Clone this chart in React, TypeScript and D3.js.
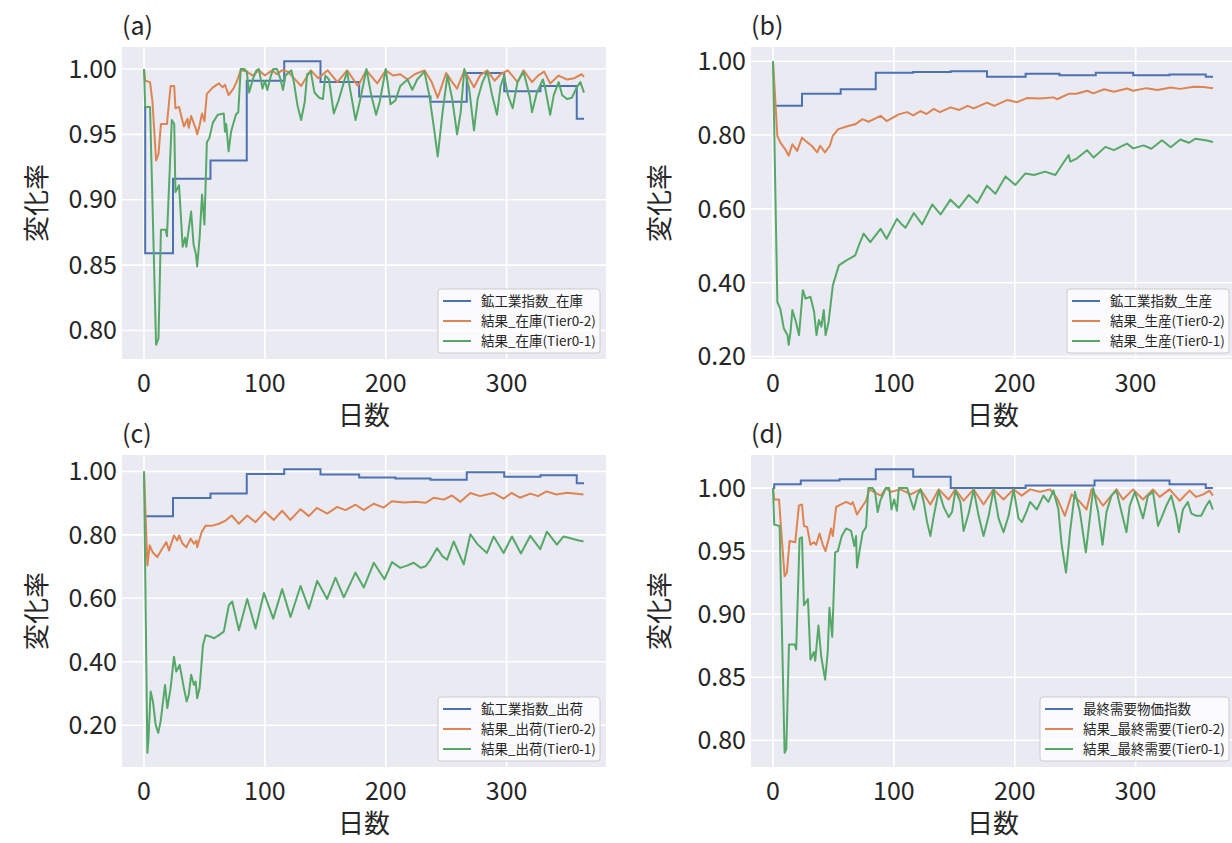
import React from 'react';
import * as d3 from 'd3';

// colours (seaborn deep)
const BLUE = '#4C72B0';
const ORANGE = '#DD8452';
const GREEN = '#55A868';

const X_TICKS = [0, 100, 200, 300];

// [day, rate] – step changes of the official indices
const blueA = [[0,0.971],[1,0.859],[24,0.916],[55,0.930],[85,0.991],[116,1.006],[146,0.990],[178,0.979],[237,0.975],[267,0.997],[298,0.983],[328,0.987],[358,0.962],[364,0.962]];
const blueB = [[0,0.879],[24,0.912],[56,0.924],[85,0.969],[116,0.971],[147,0.973],[177,0.958],[209,0.966],[237,0.962],[267,0.969],[298,0.962],[328,0.964],[358,0.958],[364,0.958]];
const blueC = [[0,0.859],[24,0.916],[55,0.930],[85,0.992],[116,1.007],[146,0.990],[178,0.981],[208,0.978],[237,0.974],[267,0.997],[298,0.983],[328,0.988],[358,0.963],[364,0.963]];
const blueD = [[0,1.0],[1,1.003],[23,1.006],[55,1.007],[85,1.015],[116,1.009],[147,1.0],[209,1.002],[266,1.006],[328,1.003],[358,1.0],[364,1.0]];

// simulation results, Tier0-2
const orangeA = [[0,1.0],[1,0.991],[5,0.990],[7,0.975],[10,0.930],[12,0.935],[14,0.958],[19,0.958],[22,0.987],[25,0.987],[26,0.970],[29,0.971],[33,0.956],[36,0.962],[37,0.955],[39,0.964],[43,0.954],[44,0.950],[46,0.957],[48,0.966],[50,0.960],[52,0.981],[57,0.986],[62,0.989],[65,0.986],[67,0.988],[70,0.980],[74,0.985],[77,0.991],[80,0.999],[85,0.998],[90,0.995],[95,0.999],[100,0.995],[106,0.999],[110,0.996],[114,0.999],[119,0.998],[124,0.993],[130,0.987],[138,0.999],[144,0.993],[152,0.999],[160,0.990],[168,0.999],[177,0.987],[184,0.999],[193,0.989],[200,0.999],[206,0.995],[212,0.996],[218,0.992],[224,0.996],[232,0.999],[238,0.990],[243,0.978],[250,0.997],[255,0.990],[259,0.985],[265,0.999],[273,0.986],[278,0.995],[284,0.999],[290,0.991],[295,0.996],[301,0.999],[309,0.990],[314,0.999],[321,0.990],[326,0.995],[331,0.998],[336,0.989],[343,0.995],[350,0.992],[356,0.993],[362,0.996],[364,0.994]];
const orangeB = [[0,1.0],[3.6,0.798],[6,0.780],[10,0.762],[13,0.744],[16,0.775],[20,0.757],[24,0.793],[27,0.784],[32,0.771],[36.5,0.753],[39,0.771],[43,0.753],[47,0.771],[49.5,0.798],[54,0.816],[63,0.825],[68,0.829],[74,0.843],[79,0.836],[89,0.852],[94,0.838],[104,0.856],[111,0.862],[116,0.853],[122,0.865],[127,0.857],[133,0.871],[138,0.862],[147,0.875],[154,0.868],[161,0.879],[166,0.872],[177,0.888],[183,0.879],[194,0.895],[202,0.889],[210,0.900],[221,0.899],[232,0.902],[235,0.897],[245,0.912],[251,0.912],[260,0.920],[265,0.913],[274,0.924],[282,0.917],[293,0.926],[298,0.920],[309,0.927],[318,0.922],[329,0.929],[337,0.925],[348,0.931],[356,0.930],[364,0.927]];
const orangeC = [[0,1.0],[2.8,0.704],[4.7,0.767],[7,0.746],[11,0.730],[15,0.756],[18.5,0.777],[20.7,0.751],[24.8,0.798],[27.5,0.782],[29,0.798],[32,0.772],[35,0.761],[38.6,0.788],[41.3,0.772],[43.3,0.782],[44,0.761],[47.7,0.809],[51,0.829],[56.5,0.829],[62,0.835],[67.5,0.845],[72.5,0.861],[78.5,0.835],[85.4,0.861],[92.3,0.840],[100,0.873],[107.4,0.847],[114.3,0.876],[121,0.847],[129.5,0.881],[136.4,0.859],[143,0.885],[151.5,0.867],[159.8,0.888],[166.7,0.878],[175,0.895],[181.8,0.878],[190,0.898],[198.3,0.886],[205,0.906],[215,0.902],[224.5,0.904],[233,0.901],[239.7,0.917],[248,0.911],[254.8,0.924],[261.7,0.904],[270,0.932],[278,0.922],[289,0.932],[297.5,0.914],[304,0.932],[311,0.917],[319.6,0.930],[326,0.922],[333,0.937],[341,0.927],[350,0.933],[363.6,0.927]];
const orangeD = [[0,1.0],[1,0.991],[5,0.991],[6.3,0.973],[9.6,0.930],[11.5,0.933],[13.7,0.958],[18.4,0.957],[21.4,0.986],[24,0.987],[25.6,0.970],[28.3,0.969],[31,0.955],[33.8,0.957],[35.7,0.955],[38.5,0.964],[41.2,0.955],[43.4,0.950],[45.9,0.959],[48,0.968],[49.5,0.962],[52.2,0.985],[56.3,0.987],[60.5,0.989],[64.6,0.987],[66,0.989],[69.5,0.979],[72.8,0.984],[77,0.990],[79.7,0.999],[85.2,0.996],[89.3,0.994],[93.4,1.0],[97.6,0.997],[105.5,0.999],[114,0.995],[122,0.999],[130.2,0.987],[137.1,0.999],[145.3,0.991],[150.8,0.999],[157.7,0.990],[165.9,0.999],[174.2,0.987],[182.4,0.999],[190.7,0.991],[198.9,0.999],[205.8,0.994],[212.7,0.999],[220.9,0.997],[229.2,0.999],[235,0.992],[241.5,0.978],[247,0.995],[253,0.990],[259.4,0.983],[263.5,0.999],[273.1,0.986],[284.1,0.999],[289.6,0.991],[297.9,0.999],[306.1,0.991],[314.4,0.999],[319.9,0.993],[328.1,0.999],[336.4,0.990],[344.6,0.998],[350.1,0.993],[356,0.995],[361.1,0.998],[363.9,0.994]];

// simulation results, Tier0-1
const greenA = [[0,1.0],[1,0.971],[5,0.971],[10,0.789],[12,0.794],[14,0.877],[18,0.877],[19,0.872],[23,0.961],[25,0.958],[26,0.906],[29,0.911],[32,0.864],[34,0.871],[35,0.864],[39,0.891],[41,0.866],[43,0.858],[44,0.849],[46,0.871],[48,0.904],[50,0.881],[52,0.944],[54,0.947],[57,0.959],[61,0.965],[66,0.966],[67,0.952],[68,0.958],[70,0.937],[72,0.952],[76,0.965],[78,0.967],[80,1.0],[83,1.0],[85,0.998],[87,0.982],[90,0.992],[93,0.999],[95,1.0],[98,0.985],[100,0.991],[102,0.984],[105,0.995],[107,1.0],[110,1.0],[113,0.992],[115,0.984],[117,0.995],[122,0.999],[124,0.990],[127,0.972],[130,0.961],[133,0.975],[135,0.996],[138,0.998],[141,0.982],[145,0.978],[148,0.977],[150,0.995],[153,0.992],[157,0.966],[161,0.976],[166,0.992],[168,0.998],[171,0.982],[175,0.961],[179,0.977],[184,1.0],[188,0.980],[192,0.965],[195,0.975],[200,1.0],[204,0.973],[208,0.976],[212,0.987],[218,0.992],[222,0.984],[226,0.992],[232,0.998],[236,0.980],[240,0.954],[243,0.933],[247,0.967],[251,0.995],[255,0.977],[259,0.950],[262,0.967],[265,1.0],[269,0.985],[273,0.953],[276,0.977],[280,0.990],[284,0.998],[288,0.980],[292,0.965],[295,0.987],[298,0.995],[301,0.980],[305,0.970],[309,0.990],[314,0.998],[319,0.980],[321,0.967],[325,0.982],[330,0.992],[332,0.985],[336,0.965],[339,0.980],[343,0.990],[346,0.980],[350,0.977],[354,0.978],[358,0.986],[361,0.990],[364,0.982]];
const greenB = [[0,1.0],[3.6,0.348],[6,0.330],[9,0.276],[12,0.258],[13,0.232],[14.5,0.267],[16,0.326],[19,0.294],[21.5,0.258],[24.7,0.380],[27,0.357],[31,0.362],[34,0.321],[36,0.258],[38,0.299],[40,0.281],[42,0.326],[43.5,0.258],[46,0.294],[49.5,0.393],[52,0.420],[54.5,0.447],[58.5,0.456],[63,0.465],[68,0.474],[71,0.501],[75,0.533],[80.5,0.510],[89,0.546],[94,0.519],[102.5,0.573],[106,0.560],[109.6,0.549],[116.5,0.589],[123.4,0.558],[131.7,0.612],[138.6,0.585],[146.8,0.625],[153.7,0.603],[162,0.638],[169,0.616],[177,0.663],[184,0.641],[192.3,0.688],[200.5,0.665],[208.8,0.696],[216,0.692],[225,0.701],[233.6,0.692],[239,0.719],[244.6,0.746],[246,0.728],[251.5,0.737],[259.8,0.759],[265.3,0.739],[275,0.768],[282,0.759],[292.8,0.777],[298,0.764],[306.6,0.772],[313,0.763],[321.8,0.786],[329,0.767],[337,0.788],[344,0.779],[349.3,0.790],[358,0.786],[364,0.781]];
const greenC = [[0,1.0],[2.8,0.113],[3.6,0.150],[5.5,0.306],[7.4,0.275],[9.6,0.202],[11.8,0.176],[13.8,0.213],[17.4,0.327],[19.3,0.254],[22,0.317],[24.8,0.416],[26.7,0.369],[29.5,0.390],[33,0.317],[35.3,0.275],[37,0.296],[39,0.359],[41.3,0.327],[42.7,0.338],[44,0.285],[46,0.317],[48.8,0.453],[51,0.484],[55,0.479],[58,0.474],[62,0.484],[66,0.495],[70.2,0.578],[73,0.590],[78.5,0.499],[85.4,0.598],[92.3,0.505],[99.2,0.617],[106.9,0.536],[114.3,0.629],[121.2,0.541],[129.5,0.639],[136.4,0.567],[143.3,0.655],[151.5,0.598],[158.4,0.665],[165.3,0.603],[174.9,0.681],[181.8,0.634],[190.1,0.712],[198.9,0.660],[205.2,0.714],[212,0.696],[217.6,0.703],[223.1,0.712],[229,0.696],[233,0.701],[237,0.722],[242.4,0.758],[247,0.732],[250.7,0.722],[256.2,0.779],[264.5,0.707],[270,0.802],[276,0.770],[283.7,0.743],[289.3,0.795],[297.5,0.743],[304.4,0.795],[311.8,0.741],[319.6,0.797],[327.8,0.755],[333.3,0.810],[341.6,0.769],[347.1,0.795],[352,0.790],[358.1,0.784],[363.6,0.779]];
const greenD = [[0,1.0],[1,0.971],[5.5,0.970],[9.6,0.790],[11,0.793],[13.2,0.876],[17.9,0.876],[19.2,0.872],[22,0.960],[24,0.961],[25.6,0.907],[28.9,0.912],[31,0.864],[33.8,0.870],[34.9,0.863],[37.6,0.891],[39.8,0.867],[43.1,0.848],[45.3,0.870],[46.7,0.905],[49,0.882],[51.4,0.949],[53.6,0.950],[56.9,0.962],[60.5,0.968],[64.6,0.966],[67.3,0.954],[68.7,0.962],[69.5,0.937],[71.4,0.949],[74.2,0.965],[77,0.969],[78.9,1.0],[82.4,1.0],[84.4,0.997],[86.6,0.981],[88.8,0.990],[93.4,1.0],[96.2,1.0],[98,0.983],[100.2,0.991],[102.5,0.982],[104.1,1.0],[111,1.0],[113.8,0.991],[116.5,0.983],[119.3,0.994],[122,0.999],[124.7,0.989],[127.5,0.973],[130.2,0.962],[133,0.978],[137.1,0.998],[141.2,0.985],[145.4,0.977],[148.1,0.981],[150.9,0.998],[155,0.989],[157.7,0.966],[161.9,0.980],[166,0.999],[170.1,0.978],[174.2,0.962],[178.4,0.978],[182.5,0.999],[186.6,0.976],[190.7,0.965],[194.9,0.978],[199,0.999],[203.1,0.976],[205.9,0.973],[210,0.982],[212.7,0.989],[218.2,0.983],[223.7,0.994],[227.8,0.989],[232,0.998],[236.1,0.983],[238.8,0.955],[242.4,0.933],[245.7,0.965],[249.8,0.997],[253.9,0.981],[258.8,0.949],[262.1,0.976],[264.9,1.0],[269,0.981],[272.6,0.955],[275.9,0.981],[280,0.994],[284.1,0.998],[288.3,0.981],[292.4,0.965],[295.1,0.986],[299.3,0.997],[302,0.989],[306.1,0.976],[310.2,0.994],[314.4,0.997],[318.5,0.970],[321.2,0.976],[325.4,0.986],[329.5,0.994],[333.6,0.978],[335.8,0.965],[339.1,0.983],[343.2,0.989],[346,0.980],[350.1,0.978],[354.2,0.978],[358.4,0.986],[361.1,0.990],[363.9,0.983]];

const yTicksFine = [0.80, 0.85, 0.90, 0.95, 1.00];
const yTicksWide = [0.20, 0.40, 0.60, 0.80, 1.00];

const legendA = ['鉱工業指数_在庫', '結果_在庫(Tier0-2)', '結果_在庫(Tier0-1)'];
const legendB = ['鉱工業指数_生産', '結果_生産(Tier0-2)', '結果_生産(Tier0-1)'];
const legendC = ['鉱工業指数_出荷', '結果_出荷(Tier0-2)', '結果_出荷(Tier0-1)'];
const legendD = ['最終需要物価指数', '結果_最終需要(Tier0-2)', '結果_最終需要(Tier0-1)'];

const FONT = '"Noto Sans CJK JP", "Noto Sans", sans-serif';
const W = 1232;
const H = 843;

const panels = [
  { tag: '(a)', left: 122, top: 47, blue: blueA, orange: orangeA, green: greenA, yTicks: yTicksFine, legend: legendA, legendW: 162, ylabelX: 37 },
  { tag: '(b)', left: 751, top: 47, blue: blueB, orange: orangeB, green: greenB, yTicks: yTicksWide, legend: legendB, legendW: 162, ylabelX: 660 },
  { tag: '(c)', left: 122, top: 455, blue: blueC, orange: orangeC, green: greenC, yTicks: yTicksWide, legend: legendC, legendW: 162, ylabelX: 37 },
  { tag: '(d)', left: 751, top: 455, blue: blueD, orange: orangeD, green: greenD, yTicks: yTicksFine, legend: legendD, legendW: 189, ylabelX: 660 },
];

const PW = 484;
const PH = 312;

function Panel({ p }) {
  const series = [p.blue, p.orange, p.green];
  const all = series.flat();
  const xMin = 0, xMax = d3.max(all, d => d[0]);
  const [yMin, yMax] = d3.extent(all, d => d[1]);
  const xPad = (xMax - xMin) * 0.05;
  const yPad = (yMax - yMin) * 0.05;

  const x = d3.scaleLinear().domain([xMin - xPad, xMax + xPad]).range([0, PW]);
  const y = d3.scaleLinear().domain([yMin - yPad, yMax + yPad]).range([PH, 0]);

  const stepLine = d3.line().x(d => x(d[0])).y(d => y(d[1])).curve(d3.curveStepAfter);
  const line = d3.line().x(d => x(d[0])).y(d => y(d[1]));
  const fmt = d3.format('.2f');
  const colors = [BLUE, ORANGE, GREEN];

  const lgX = PW - 6 - p.legendW;
  const lgY = PH - 6 - 64;

  return (
    <g transform={`translate(${p.left},${p.top})`}>
      <rect width={PW} height={PH} fill="#EAEAF2" />
      {X_TICKS.map(t => (
        <line key={'gx' + t} x1={x(t)} x2={x(t)} y1={0} y2={PH} stroke="#fff" strokeWidth={1.6} />
      ))}
      {p.yTicks.map(t => (
        <line key={'gy' + t} x1={0} x2={PW} y1={y(t)} y2={y(t)} stroke="#fff" strokeWidth={1.6} />
      ))}
      <path d={stepLine(p.blue)} fill="none" stroke={BLUE} strokeWidth={2} />
      <path d={line(p.orange)} fill="none" stroke={ORANGE} strokeWidth={2} strokeLinejoin="round" />
      <path d={line(p.green)} fill="none" stroke={GREEN} strokeWidth={2} strokeLinejoin="round" />

      {X_TICKS.map(t => (
        <text key={'tx' + t} x={x(t)} y={PH + 33} textAnchor="middle" fontSize={25} fill="#262626">{t}</text>
      ))}
      {p.yTicks.map(t => (
        <text key={'ty' + t} x={-5} y={y(t)} dy="0.35em" textAnchor="end" fontSize={25} fill="#262626">{fmt(t)}</text>
      ))}
      <text x={PW / 2} y={PH + 57} dy="0.35em" textAnchor="middle" fontSize={26} fill="#262626">日数</text>
      <text transform={`translate(${p.ylabelX - p.left},${PH / 2}) rotate(-90)`} dy="0.35em" textAnchor="middle" fontSize={26} fill="#262626">変化率</text>
      <text x={0} y={-21} dy="0.35em" fontSize={25} fill="#262626">{p.tag}</text>

      <g transform={`translate(${lgX},${lgY})`}>
        <rect width={p.legendW} height={64} rx={3} fill="#fff" fillOpacity={0.8} stroke="#cccccc" />
        {p.legend.map((label, i) => (
          <g key={label} transform={`translate(0,${12 + i * 20})`}>
            <line x1={5} x2={33} stroke={colors[i]} strokeWidth={2} />
            <text x={43} dy="0.35em" fontSize={13.5} fill="#262626">{label}</text>
          </g>
        ))}
      </g>
    </g>
  );
}

export default function App() {
  return (
    <div style={{ position: 'absolute', left: 0, top: 0, width: W, height: H, overflow: 'hidden', background: '#fff' }}>
      <svg width={W} height={H} style={{ fontFamily: FONT, display: 'block' }}>
        <rect width={W} height={H} fill="#fff" />
        {panels.map(p => <Panel key={p.tag} p={p} />)}
      </svg>
    </div>
  );
}
